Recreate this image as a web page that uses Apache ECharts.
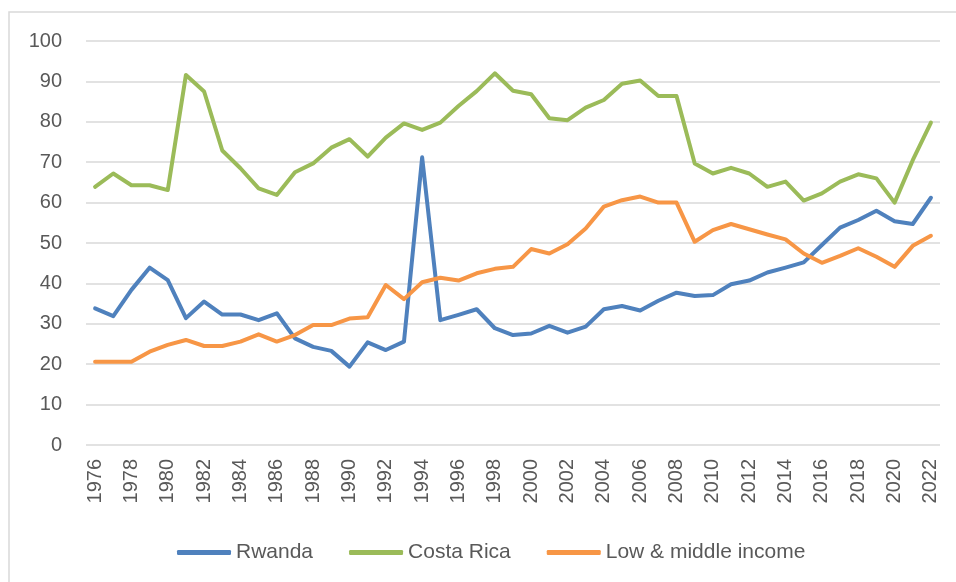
<!DOCTYPE html>
<html>
<head>
<meta charset="utf-8">
<script src="https://cdn.jsdelivr.net/npm/echarts@6/dist/echarts.min.js"></script>
<style>
    html, body { margin: 0; padding: 0; background: #fff; }
    #chart { width: 956px; height: 582px; }
</style>
</head>
<body>
<div id="chart"></div>
<script>
// years 1976 - 2022
var years = [];
for (var y = 1976; y <= 2022; y++) {
    years.push(String(y));
}

var rwanda = [
    33.8, 31.9, 38.4, 43.9, 40.8, 31.4, 35.5, 32.3, 32.3, 30.9,
    32.6, 26.4, 24.3, 23.3, 19.4, 25.4, 23.5, 25.6, 71.2, 30.9,
    32.2, 33.6, 28.9, 27.2, 27.6, 29.5, 27.8, 29.3, 33.6, 34.4,
    33.3, 35.7, 37.7, 36.9, 37.1, 39.8, 40.7, 42.7, 43.9, 45.2,
    49.5, 53.8, 55.7, 58.0, 55.4, 54.7, 61.2
];

var costaRica = [
    63.9, 67.2, 64.3, 64.3, 63.1, 91.6, 87.5, 72.9, 68.5, 63.5,
    61.9, 67.5, 69.7, 73.6, 75.7, 71.4, 76.1, 79.6, 78.0, 79.8,
    83.9, 87.6, 92.0, 87.7, 86.8, 80.9, 80.4, 83.5, 85.4, 89.4,
    90.2, 86.4, 86.4, 69.7, 67.2, 68.6, 67.2, 63.9, 65.2, 60.5,
    62.3, 65.2, 67.0, 66.0, 60.0, 70.5, 79.8
];

var lowMiddle = [
    20.6, 20.6, 20.6, 23.1, 24.8, 26.0, 24.5, 24.5, 25.6, 27.4,
    25.6, 27.2, 29.7, 29.7, 31.3, 31.6, 39.6, 36.1, 40.3, 41.4,
    40.7, 42.5, 43.6, 44.1, 48.5, 47.4, 49.7, 53.6, 59.0, 60.6,
    61.5, 60.0, 60.0, 50.3, 53.2, 54.7, 53.4, 52.1, 50.9, 47.4,
    45.1, 46.8, 48.7, 46.6, 44.1, 49.3, 51.8
];

var chartDom = document.getElementById('chart');
var myChart = echarts.init(chartDom);
var option;

var font = 'Liberation Sans, Arial, sans-serif';
var textColor = '#595959';

function line(name, data, color) {
    return {
        name: name,
        type: 'line',
        data: data,
        symbol: 'none',
        smooth: false,
        animation: false,
        itemStyle: { color: color },
        lineStyle: { color: color, width: 4, cap: 'round', join: 'round' }
    };
}

option = {
    animation: false,
    // chart area border (top / left edges visible)
    graphic: [{
        type: 'polyline',
        shape: { points: [[9, 600], [9, 12], [970, 12]] },
        style: { stroke: '#d9d9d9', lineWidth: 1.5, fill: null },
        silent: true
    }],
    grid: {
        left: 86,
        right: 16,
        top: 41,
        bottom: 137
    },
    legend: {
        left: 172,
        top: 537,
        icon: 'roundRect',
        itemWidth: 54,
        itemHeight: 5,
        itemGap: 36,
        textStyle: { fontFamily: font, fontSize: 21, color: textColor },
        data: ['Rwanda', 'Costa Rica', 'Low & middle income']
    },
    xAxis: {
        type: 'category',
        data: years,
        boundaryGap: true,
        axisLine: { show: false },
        axisTick: { show: false },
        axisLabel: {
            interval: 1,
            rotate: 90,
            margin: 14,
            fontFamily: font,
            fontSize: 20,
            color: textColor
        }
    },
    yAxis: {
        type: 'value',
        min: 0,
        max: 100,
        interval: 10,
        axisLine: { show: false },
        axisTick: { show: false },
        axisLabel: {
            margin: 24,
            fontFamily: font,
            fontSize: 20,
            color: textColor
        },
        splitLine: { lineStyle: { color: '#d9d9d9', width: 1.5 } }
    },
    series: [
        line('Rwanda', rwanda, '#4f81bd'),
        line('Costa Rica', costaRica, '#9bbb59'),
        line('Low & middle income', lowMiddle, '#f79646')
    ]
};

option && myChart.setOption(option);
</script>
</body>
</html>
